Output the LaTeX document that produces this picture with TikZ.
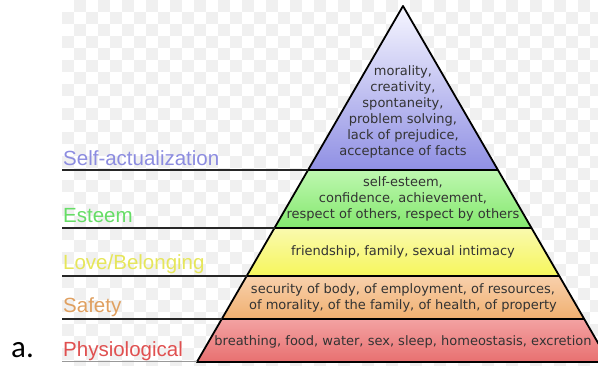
\documentclass[tikz,border=0pt]{standalone}
\usepackage{fontspec}
\setmainfont{DejaVu Sans}
\newfontfamily\labelfont{Liberation Sans}
\newfontfamily\markfont{Carlito}
\usetikzlibrary{positioning}
\definecolor{selfcol}{HTML}{8C8CE0}
\definecolor{esteemcol}{HTML}{66DD66}
\definecolor{lovecol}{HTML}{E6E65A}
\definecolor{safetycol}{HTML}{E0A060}
\definecolor{physcol}{HTML}{E05050}
\definecolor{checkcol}{HTML}{F0F0F0}
% tier shades, top and bottom
\definecolor{selftop}{HTML}{F6F6FF}   \definecolor{selfbot}{HTML}{9090E4}
\definecolor{esteemtop}{HTML}{BEF7B0} \definecolor{esteembot}{HTML}{84E86E}
\definecolor{lovetop}{HTML}{FAFAAE}   \definecolor{lovebot}{HTML}{F6F65C}
\definecolor{safetytop}{HTML}{F8D0AC} \definecolor{safetybot}{HTML}{F0B070}
\definecolor{phystop}{HTML}{F3A2A2}   \definecolor{physbot}{HTML}{E87070}
\tikzset{
  needtext/.style={
      align=center,
      font=\fontsize{13}{16}\selectfont,
      text=black!80,
      inner sep=0pt
  },
  needlabel/.style={
      anchor=base west,
      font=\labelfont\fontsize{20.5}{22}\selectfont,
      inner sep=0pt
  },
  tierline/.style={line width=1.6pt,black!85},
  tier/.style={draw=black,line width=1.8pt,line join=round}
}

\begin{document}
\begin{tikzpicture}[x=1pt,y=-1pt]
    \clip (0,0) rectangle (598,366);
    \fill[white] (0,0) rectangle (598,366);
    % faint checkered backdrop
    \foreach \i in {0,...,44} {
      \foreach \j in {0,...,30} {
        \pgfmathtruncatemacro{\odd}{mod(\i+\j,2)}
        \ifnum\odd=1
          \fill[checkcol] ({62+12*\i},{12*\j}) rectangle +(12,12);
        \fi
      }
    }
    % pyramid corners
    \coordinate (apex) at (403,6);
    \coordinate (l1) at (308,170);   \coordinate (r1) at (498,170);
    \coordinate (l2) at (274.5,228); \coordinate (r2) at (531.5,228);
    \coordinate (l3) at (246.7,276); \coordinate (r3) at (559.3,276);
    \coordinate (l4) at (221.8,319); \coordinate (r4) at (584.2,319);
    \coordinate (l5) at (196.9,362); \coordinate (r5) at (609.1,362);
    % tiers
    \fill[top color=selftop,bottom color=selfbot] (apex) -- (r1) -- (l1) -- cycle;
    \fill[top color=esteemtop,bottom color=esteembot] (l1) -- (r1) -- (r2) -- (l2) -- cycle;
    \fill[top color=lovetop,bottom color=lovebot] (l2) -- (r2) -- (r3) -- (l3) -- cycle;
    \fill[top color=safetytop,bottom color=safetybot] (l3) -- (r3) -- (r4) -- (l4) -- cycle;
    \fill[top color=phystop,bottom color=physbot] (l4) -- (r4) -- (r5) -- (l5) -- cycle;
    \draw[tier] (apex) -- (l5) -- (r5) -- cycle;
    \foreach \k in {1,...,4}
      \draw[tier] (l\k) -- (r\k);
    % rules out to the left
    \foreach \k/\y in {1/170,2/228,3/276,4/319} {
      \coordinate (s\k) at (62,\y);
      \draw[tierline] (s\k) -- (l\k);
    }
    \coordinate (s5) at (62,362);
    \draw[line width=1pt,black!40] (s5) -- (l5);
    % contents of each tier
    \node[needtext] (selftext) at (403,112) {morality,\\creativity,\\spontaneity,\\problem solving,\\lack of prejudice,\\acceptance of facts};
    \node[needtext] (esteemtext) at (403,199) {self-esteem,\\confidence, achievement,\\respect of others, respect by others};
    \node[needtext] (lovetext) at (403,252) {friendship, family, sexual intimacy};
    \node[needtext] (safetytext) at (403,298) {security of body, of employment, of resources,\\of morality, of the family, of health, of property};
    \node[needtext] (phystext) at (403,342) {breathing, food, water, sex, sleep, homeostasis, excretion};
    % tier names
    \node[needlabel,text=selfcol] (selflabel) at (63,166) {Self-actualization};
    \node[needlabel,text=esteemcol] (esteemlabel) at (63,223) {Esteem};
    \node[needlabel,text=lovecol] (lovelabel) at (63,270) {Love/Belonging};
    \node[needlabel,text=safetycol] (safetylabel) at (63,313) {Safety};
    \node[needlabel,text=physcol] (physlabel) at (63,357) {Physiological};
    \node[anchor=base west,inner sep=0pt,font=\markfont\fontsize{31}{33}\selectfont] (mark) at (11,358) {a.};
\end{tikzpicture}
\end{document}
